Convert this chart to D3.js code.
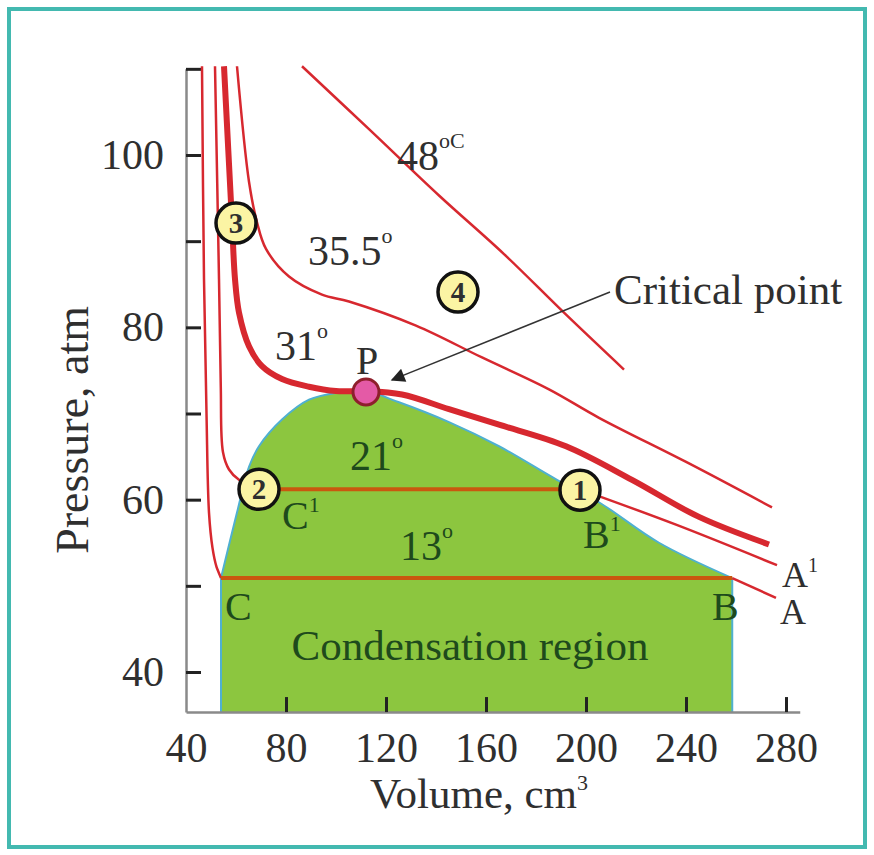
<!DOCTYPE html>
<html>
<head>
<meta charset="utf-8">
<script src="https://cdn.jsdelivr.net/npm/d3@7"></script>
<style>
  body { margin: 0; background: #fff; }
  svg text { font-family: "Liberation Serif", "DejaVu Serif", serif; fill: #2f2f2f; }
  .grn { fill: #1e4a1c; }
</style>
</head>
<body>
<svg width="874" height="855"></svg>
<script>
// isotherms, [volume cm3, pressure atm]
var iso13 = [[46.4,110.3],[47.2,85.6],[48.2,70],[49.2,58.5],[50.6,54.4],[52.2,52.2],[54,50.9]];
var iso13b = [[258.5,50.9],[276,48.6]];
var iso21 = [[51.6,110.3],[53.2,85.6],[53.9,73.3],[54.8,65.5],[57.2,63.5],[61.2,62.3],[69.2,61.2]];
var iso21b = [[197.6,61.2],[236,57.1],[276.4,52.4]];
var iso31 = [[55.2,110.3],[58.4,92.2],[59.6,85.6],[61.2,81.7],[65.2,77.8],[70.4,75.5],[78.4,74.0],
             [89.2,73.1],[100,72.6],[111.6,72.6],[126.4,72.2],[145.2,70.5],[165.2,68.7],[192,66.2],
             [218.4,62.3],[245.2,58.0],[273.2,54.8]];
var iso35 = [[60.4,110.3],[65.2,96.9],[68.4,92.2],[72,89.1],[81.2,85.9],[94.4,83.8],[105.2,83.0],
             [132,80.2],[158.4,76.5],[185.2,72.8],[205.2,69.5],[241.2,64.2],[274.4,59.1]];
var iso48 = [[86.4,110.3],[113.2,103.0],[141.2,95.3],[167.2,88.5],[191.2,81.7],[215.2,75.1]];

// horizontal condensation lines
var plateau13 = [[54,50.9],[258.5,50.9]];
var plateau21 = [[69.2,61.2],[197.6,61.2]];

// two-phase dome
var dome = [[54,35.35],[54,50.9],[60.4,58.5],[65.2,63.8],[69.2,66.2],[78.4,69.3],[89.2,71.6],[100,72.4],
            [111.6,72.6],[125.2,71.3],[145.2,69.0],[165.2,66.2],[188.4,62.3],[205.2,59.7],[229.2,55.0],
            [258.5,50.9],[258.5,35.35]];

// numbered markers
var markers = [{n:"3", v:60, p:92.1}, {n:"4", v:148.8, p:84.1}, {n:"2", v:69.2, p:61.2}, {n:"1", v:197.6, p:61.1}];
var critical = {v:112, p:72.5};

var yTicks = [40,50,60,70,80,90,100,110];
var xTicks = [40,80,120,160,200,240,280];

var svg = d3.select("svg");

var x = d3.scaleLinear().domain([40,280]).range([186,786]);
var y = d3.scaleLinear().domain([40,100]).range([672,155]);

// frame
svg.append("rect").attr("x",9).attr("y",9).attr("width",856).attr("height",838)
    .attr("fill","none").attr("stroke","#43b9b0").attr("stroke-width",4);

var line = d3.line().x(d => x(d[0])).y(d => y(d[1]));
var curve = d3.line().x(d => x(d[0])).y(d => y(d[1])).curve(d3.curveCatmullRom.alpha(0.5));

// dome
var domeEdge = dome.slice(1, dome.length - 1);
var last = dome[dome.length - 1];
svg.append("path").attr("d", curve(domeEdge) + "L" + x(last[0]) + "," + y(last[1])
        + "L" + x(dome[0][0]) + "," + y(dome[0][1]) + "Z")
    .attr("fill","#8cc63f").attr("stroke","none");
svg.append("path").attr("d", curve(domeEdge))
    .attr("fill","none").attr("stroke","#4fb0d0").attr("stroke-width",2);
svg.append("path").attr("d", line([dome[dome.length-2], last]))
    .attr("fill","none").attr("stroke","#4fb0d0").attr("stroke-width",2);
svg.append("path").attr("d", line([dome[0], dome[1]]))
    .attr("fill","none").attr("stroke","#4fb0d0").attr("stroke-width",2);

// axes
var yAxisScale = y.copy().domain([35.35,110]).range([y(35.35), y(110)]);
var yAxis = svg.append("g").attr("transform","translate(" + x(40) + ",0)")
    .call(d3.axisLeft(yAxisScale).tickValues(yTicks).tickSizeInner(-15).tickSizeOuter(0).tickPadding(22)
        .tickFormat(d => d % 20 === 0 ? d : ""));
var xAxisScale = x.copy().domain([40,285.5]).range([x(40), x(285.5)]);
var xAxis = svg.append("g").attr("transform","translate(0," + y(35.35) + ")")
    .call(d3.axisBottom(xAxisScale).tickValues(xTicks).tickSizeInner(-15).tickSizeOuter(0).tickPadding(20));
[yAxis, xAxis].forEach(g => {
  g.select(".domain").attr("stroke","#8a8a8a").attr("stroke-width",2.5);
  g.selectAll(".tick line").attr("stroke","#222").attr("stroke-width",3);
  g.selectAll(".tick text").attr("font-size",42).attr("fill","#2f2f2f")
    .attr("font-family","Liberation Serif");
});
xAxis.selectAll(".tick").filter(d => d === 40).select("line").remove();

// isotherms
var red = "#d7282f";
[iso13, iso13b, iso21, iso21b, iso35, iso48].forEach(s => {
  svg.append("path").attr("d", curve(s)).attr("fill","none").attr("stroke",red).attr("stroke-width",2.5);
});
svg.append("path").attr("d", curve(iso31)).attr("fill","none").attr("stroke",red).attr("stroke-width",6);

[plateau13, plateau21].forEach(s => {
  svg.append("path").attr("d", line(s)).attr("fill","none").attr("stroke","#c9580f").attr("stroke-width",4);
});

// arrow to critical point
svg.append("defs").append("marker").attr("id","ah").attr("viewBox","0 0 10 10")
    .attr("refX",9).attr("refY",5).attr("markerWidth",22).attr("markerHeight",14)
    .attr("markerUnits","userSpaceOnUse").attr("orient","auto")
  .append("path").attr("d","M0,0L10,5L0,10Z").attr("fill","#222");
svg.append("line").attr("x1",x(209.6)).attr("y1",y(84.1)).attr("x2",x(122.4)).attr("y2",y(73.9))
    .attr("stroke","#333").attr("stroke-width",1.5).attr("marker-end","url(#ah)");

// markers
var mk = svg.append("g").selectAll("g").data(markers).enter().append("g")
    .attr("transform", d => "translate(" + x(d.v) + "," + y(d.p) + ")");
mk.append("circle").attr("r",20).attr("fill","#fbf4a4").attr("stroke","#111").attr("stroke-width",3.5);
mk.append("text").attr("text-anchor","middle").attr("dy","0.35em").attr("font-size",29)
    .attr("font-weight","bold").attr("fill","#2a2a2a").text(d => d.n);

svg.append("circle").attr("cx",x(critical.v)).attr("cy",y(critical.p)).attr("r",13)
    .attr("fill","#e45aa6").attr("stroke","#8e1f2c").attr("stroke-width",3);

// labels
function label(v, p, main, sup, cls, size, supSize, supDy, anchor) {
  var t = svg.append("text").attr("x", x(v)).attr("y", y(p)).attr("font-size", size)
      .attr("text-anchor", anchor || "start");
  if (cls) t.attr("class", cls);
  t.append("tspan").text(main);
  if (sup) t.append("tspan").attr("font-size", supSize).attr("dy", supDy).text(sup);
  return t;
}
label(124.4, 98.3, "48", "oC", null, 42, 22, -22);
label(88.8, 87.2, "35.5", "o", null, 42, 22, -22);
label(75.6, 76.2, "31", "o", null, 42, 22, -22);
label(112.4, 74.6, "P", null, null, 40, 0, 0, "middle");
label(105.6, 63.4, "21", "o", "grn", 42, 22, -22);
label(125.6, 53.0, "13", "o", "grn", 42, 22, -22);
label(78.4, 56.6, "C", "1", "grn", 40, 22, -17);
label(198.8, 54.4, "B", "1", "grn", 40, 22, -17);
label(55.6, 46.0, "C", null, "grn", 40);
label(250.4, 46.0, "B", null, "grn", 40);
label(277.6, 45.6, "A", null, null, 36);
label(278.4, 49.9, "A", "1", null, 36, 20, -15);
label(153.6, 41.4, "Condensation region", null, "grn", 43, 0, 0, "middle");
label(211.2, 82.7, "Critical point", null, null, 43);

svg.append("text").attr("x", x(157.2)).attr("y", 808).attr("text-anchor","middle").attr("font-size",43)
  .call(t => { t.append("tspan").text("Volume, cm"); t.append("tspan").attr("font-size",22).attr("dy",-18).text("3"); });
svg.append("text").attr("transform","translate(88," + y(68.1) + ") rotate(-90)").attr("text-anchor","middle")
  .attr("font-size",46).text("Pressure, atm");
</script>
</body>
</html>
